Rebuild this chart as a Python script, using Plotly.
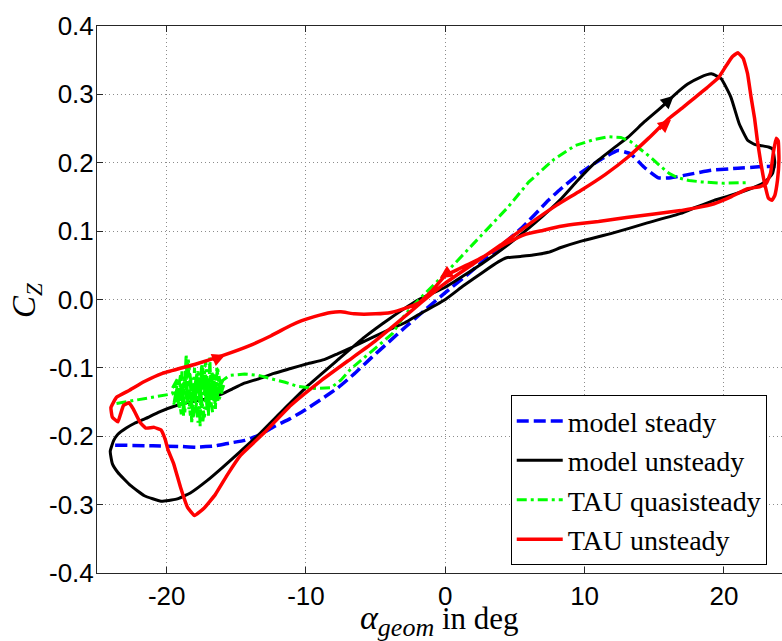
import plotly.graph_objects as go

# ---------------- data ----------------
blue_x = [-23.7, -21, -19, -17.9, -16.5, -15.5, -14.4, -13.3, -12.3, -11.2, -10.1, -8.9, -7.7, -6.5,
          -5.3, -4.1, -2.9, -1.5, 0, 1.8, 3.5, 5.5, 7.4, 8.3, 9.5, 10.7, 11.6, 12.4, 13.3, 14.3, 15.3,
          16.2, 17.5, 19.1, 21, 22.5, 23.7]
blue_y = [-0.213, -0.214, -0.215, -0.216, -0.214, -0.21, -0.206, -0.198, -0.186, -0.175, -0.162, -0.146,
          -0.129, -0.108, -0.085, -0.063, -0.041, -0.016, 0.01, 0.04, 0.07, 0.105, 0.145, 0.162, 0.182,
          0.199, 0.21, 0.218, 0.213, 0.193, 0.178, 0.178, 0.183, 0.189, 0.192, 0.194, 0.195]

black_x = [-20.4, -19.3, -18.3, -17.1, -15.9, -14.7, -13.5, -11.8, -9.8, -7.7, -5.8, -4.0, -1.9, 0, 2.6,
           4.5, 6.5, 8.3, 9.5, 10.7, 12.0, 13.1, 14.3, 15.5, 16.5, 17.4, 18.3, 19.1, 19.8, 20.5, 21.1,
           21.7, 22.2, 22.7, 23.2, 23.5, 23.65, 23.5, 23.2, 22.7, 21.5, 20.3, 19.3, 18.0, 16.9, 14.5,
           12.0, 9.7, 8.3, 7.4, 6.3, 5.4, 4.4, 3.8, 2.7, 1.3, 0, -1.9, -2.9, -3.9, -5.3, -6.5, -7.7,
           -8.7, -9.9, -11.1, -12.3, -13.4, -14.5, -15.3, -16.0, -17.1, -18.3, -19.3, -20.6, -21.5,
           -22.3, -22.9, -23.5, -23.8, -24.05, -23.9, -23.5, -22.6, -21.6, -20.4]
black_y = [-0.295, -0.292, -0.283, -0.265, -0.244, -0.222, -0.2, -0.165, -0.125, -0.088, -0.055, -0.028,
           0.0, 0.018, 0.052, 0.08, 0.113, 0.147, 0.174, 0.199, 0.22, 0.237, 0.26, 0.281, 0.3, 0.315,
           0.325, 0.33, 0.323, 0.296, 0.257, 0.233, 0.227, 0.225, 0.223, 0.22, 0.2, 0.185, 0.177, 0.169,
           0.159, 0.151, 0.145, 0.135, 0.126, 0.112, 0.097, 0.085, 0.076, 0.069, 0.065, 0.063, 0.061,
           0.055, 0.04, 0.02, 0.0, -0.022, -0.034, -0.043, -0.056, -0.068, -0.079, -0.088, -0.094,
           -0.101, -0.108, -0.116, -0.123, -0.131, -0.138, -0.145, -0.15, -0.155, -0.165, -0.174,
           -0.181, -0.188, -0.197, -0.206, -0.222, -0.24, -0.253, -0.272, -0.287, -0.295]

green_x = [-23.6, -22.5, -21.5, -20.5, -19.6,
           -19.3, -19.1, -18.9, -18.8, -18.6, -18.5, -18.3, -18.2, -18.0, -17.9, -17.7, -17.6, -17.5,
           -17.3, -17.2, -17.0, -16.9, -16.8, -16.6, -16.5, -16.4, -16.2, -16.1,
           -16.4, -16.7, -17.0, -17.3, -17.6, -17.9, -18.2, -18.5, -18.8, -19.0, -19.4, -18.7, -18.4,
           -18.1, -17.8, -17.4, -17.1, -16.8, -16.5, -16.2, -15.9,
           -16.3, -16.6, -16.9, -17.2, -17.5, -17.8, -18.1, -18.4, -18.7, -19.0, -19.3, -19.6, -19.2,
           -18.9, -18.6, -18.3, -18.0, -17.7, -17.4, -17.1, -16.8, -16.5, -16.2,
           -16.0, -16.35, -16.7, -17.05, -17.4, -17.75, -18.1, -18.45, -18.8, -19.15, -19.5, -19.25,
           -18.95, -18.65, -18.35, -18.05, -17.75, -17.45, -17.15, -16.85, -16.55, -16.25, -15.95,
           -15.5, -14.4, -13.4, -12.5, -11.5, -10.6, -9.4, -8.2, -7.5, -6.8, -5.8, -4.8, -3.8, -2.9,
           -1.5, 0, 1.5, 3, 4.5, 6, 7.8, 9.3, 10.7, 11.7, 12.6, 13.3, 14, 14.8, 15.5, 16.1, 16.7,
           17.5, 18.4, 20, 21.7, 23.9]
green_y = [-0.152, -0.148, -0.145, -0.141, -0.138,
           -0.12, -0.16, -0.105, -0.172, -0.08, -0.15, -0.125, -0.182, -0.1, -0.16, -0.12, -0.186,
           -0.095, -0.14, -0.11, -0.17, -0.085, -0.15, -0.12, -0.16, -0.1, -0.13, -0.115,
           -0.145, -0.105, -0.14, -0.172, -0.13, -0.145, -0.115, -0.13, -0.15, -0.13, -0.145, -0.12,
           -0.16, -0.14, -0.105, -0.125, -0.15, -0.135, -0.125, -0.14, -0.125,
           -0.15, -0.11, -0.16, -0.09, -0.155, -0.115, -0.175, -0.1, -0.165, -0.11, -0.15, -0.13,
           -0.115, -0.155, -0.095, -0.17, -0.12, -0.15, -0.1, -0.158, -0.112, -0.145, -0.12,
           -0.14, -0.1, -0.165, -0.12, -0.178, -0.105, -0.148, -0.088, -0.14, -0.118, -0.155,
           -0.125, -0.168, -0.108, -0.142, -0.125, -0.18, -0.095, -0.135, -0.11, -0.152, -0.13,
           -0.118, -0.111, -0.109, -0.111, -0.116, -0.121, -0.127, -0.13, -0.129, -0.118, -0.102,
           -0.085, -0.067, -0.05, -0.022, 0.008, 0.038, 0.07, 0.102, 0.135, 0.172, 0.205, 0.225,
           0.234, 0.238, 0.237, 0.231, 0.22, 0.207, 0.194, 0.184, 0.178, 0.174, 0.172, 0.17, 0.171]

red_x = [-18.0, -17.3, -16.5, -15.6, -14.7, -13.0, -11.1, -9.0, -7.0, -5.3, -3.5, -1.7, 0, 2.0, 4.0,
         6.0, 8.0, 9.7, 11.5, 13.1, 14.6, 16.0, 17.0, 17.9, 18.8, 19.6, 20.2, 20.6, 21.0, 21.4, 21.7,
         21.95, 22.2, 22.4, 22.65, 22.9, 23.2, 23.45, 23.65, 23.85, 23.95, 23.9, 23.75, 23.55, 23.35,
         23.05, 22.6, 21.7, 20.5, 19.3, 18.0, 16.9, 15.0, 13.0, 11.0, 9.7, 8.3, 7.0, 5.7, 4.2, 2.5,
         1.0, 0, -1.0, -1.9, -2.9, -3.9, -5.0, -6.5, -7.5, -8.2, -9.4, -10.3, -11.1, -12.5, -14.0,
         -16.0, -18.0, -20.3, -21.6, -22.7, -23.6, -24.0, -23.9, -23.5, -23.3, -23.1, -22.7, -22.4,
         -21.9, -21.5, -20.9, -20.4, -20.1, -19.9, -19.5, -19.0, -18.5, -18.0]
red_y = [-0.316, -0.305, -0.285, -0.255, -0.228, -0.195, -0.155, -0.12, -0.09, -0.065, -0.035, -0.004,
         0.024, 0.052, 0.08, 0.11, 0.138, 0.159, 0.183, 0.208, 0.236, 0.264, 0.28, 0.295, 0.31, 0.324,
         0.343, 0.355, 0.361, 0.352, 0.33, 0.296, 0.265, 0.233, 0.2, 0.172, 0.148, 0.145, 0.152, 0.175,
         0.205, 0.232, 0.236, 0.215, 0.185, 0.17, 0.165, 0.162, 0.15, 0.14, 0.134, 0.13, 0.125, 0.12,
         0.114, 0.111, 0.107, 0.101, 0.095, 0.08, 0.06, 0.045, 0.035, 0.012, -0.005, -0.013, -0.019,
         -0.021, -0.021, -0.018, -0.019, -0.025, -0.031, -0.038, -0.053, -0.067, -0.082, -0.095,
         -0.108, -0.12, -0.133, -0.143, -0.158, -0.172, -0.179, -0.167, -0.155, -0.151, -0.16, -0.18,
         -0.188, -0.187, -0.191, -0.205, -0.22, -0.24, -0.275, -0.304, -0.316]

x_ticks = [-20, -10, 0, 10, 20]
x_tick_labels = ["-20", "-10", "0", "10", "20"]
y_ticks = [-0.4, -0.3, -0.2, -0.1, 0.0, 0.1, 0.2, 0.3, 0.4]
y_tick_labels = ["-0.4", "-0.3", "-0.2", "-0.1", "0.0", "0.1", "0.2", "0.3", "0.4"]
series_names = ["model steady", "model unsteady", "TAU quasisteady", "TAU unsteady"]

# ---------------- figure ----------------
fig = go.Figure()
fig.add_trace(go.Scatter(x=blue_x, y=blue_y, mode="lines", name=series_names[0], legendgroup="a",
                         line=dict(color="#0000FF", width=3.5, dash="12px,5px", shape="spline", smoothing=0.4)))
fig.add_trace(go.Scatter(x=black_x, y=black_y, mode="lines", name=series_names[1], legendgroup="b",
                         line=dict(color="#000000", width=3, shape="spline", smoothing=0.4)))
fig.add_trace(go.Scatter(x=green_x, y=green_y, mode="lines", name=series_names[2], legendgroup="c",
                         line=dict(color="#00FF00", width=3, dash="10px,4px,3px,4px")))
fig.add_trace(go.Scatter(x=red_x, y=red_y, mode="lines", name=series_names[3], legendgroup="d",
                         line=dict(color="#FF0000", width=3.5, shape="spline", smoothing=0.3)))

# direction arrows
arrows = [(16.4, 0.298, -13, 12, "#000000"), (16.2, 0.263, -13, 11, "#FF0000"),
          (-0.4, 0.031, 12, -8, "#FF0000"), (-15.8, -0.081, -14, 6, "#FF0000")]
for ax_x, ax_y, dx, dy, col in arrows:
    fig.add_annotation(x=ax_x, y=ax_y, ax=dx, ay=dy, showarrow=True, text="", arrowhead=2,
                       arrowsize=1.3, arrowwidth=2, arrowcolor=col)

# axis titles
fig.add_annotation(xref="paper", yref="paper", x=0.5, y=-0.087, xanchor="center", yanchor="middle",
                   showarrow=False,
                   text="<span style='font-size:34px'><i>α</i></span>"
                        "<sub><span style='font-size:26px'><i>geom</i></span></sub> in deg",
                   font=dict(family="Liberation Serif, serif", size=31, color="#000000"))
fig.add_annotation(xref="paper", yref="paper", x=-0.103, y=0.5, xanchor="center", yanchor="middle",
                   showarrow=False, textangle=-90, text="<i>C</i><sub><i>Z</i></sub>",
                   font=dict(family="Liberation Serif, serif", size=33, color="#000000"))

tick_font = dict(family="Liberation Sans, Arial", size=26, color="#000000")
grid_common = dict(showgrid=True, gridcolor="#8c8c8c", griddash="1px,3px", gridwidth=1, zeroline=False,
                   showline=True, linecolor="#262626", linewidth=1, ticks="inside", ticklen=6,
                   tickcolor="#262626", tickfont=tick_font, automargin=False)

fig.update_layout(
    width=782, height=641,
    margin=dict(l=97, r=0, t=26, b=68, autoexpand=False),
    paper_bgcolor="white", plot_bgcolor="white",
    xaxis=dict(range=[-25, 24.17], tickvals=x_ticks, ticktext=x_tick_labels, mirror="ticks", **grid_common),
    yaxis=dict(range=[-0.4, 0.4], tickvals=y_ticks, ticktext=y_tick_labels, mirror=False,
               ticklabelstandoff=-3, **grid_common),
    showlegend=True,
    legend=dict(x=0.604, y=0.325, xanchor="left", yanchor="top", bgcolor="white",
                bordercolor="#000000", borderwidth=1, tracegroupgap=11, itemwidth=46,
                traceorder="normal", entrywidth=240, entrywidthmode="pixels",
                font=dict(family="Liberation Serif, serif", size=28, color="#000000")),
)

fig.write_html("out.html", config={"displayModeBar": False},
               post_script="document.body.style.margin='0px';document.body.style.overflow='hidden';")
